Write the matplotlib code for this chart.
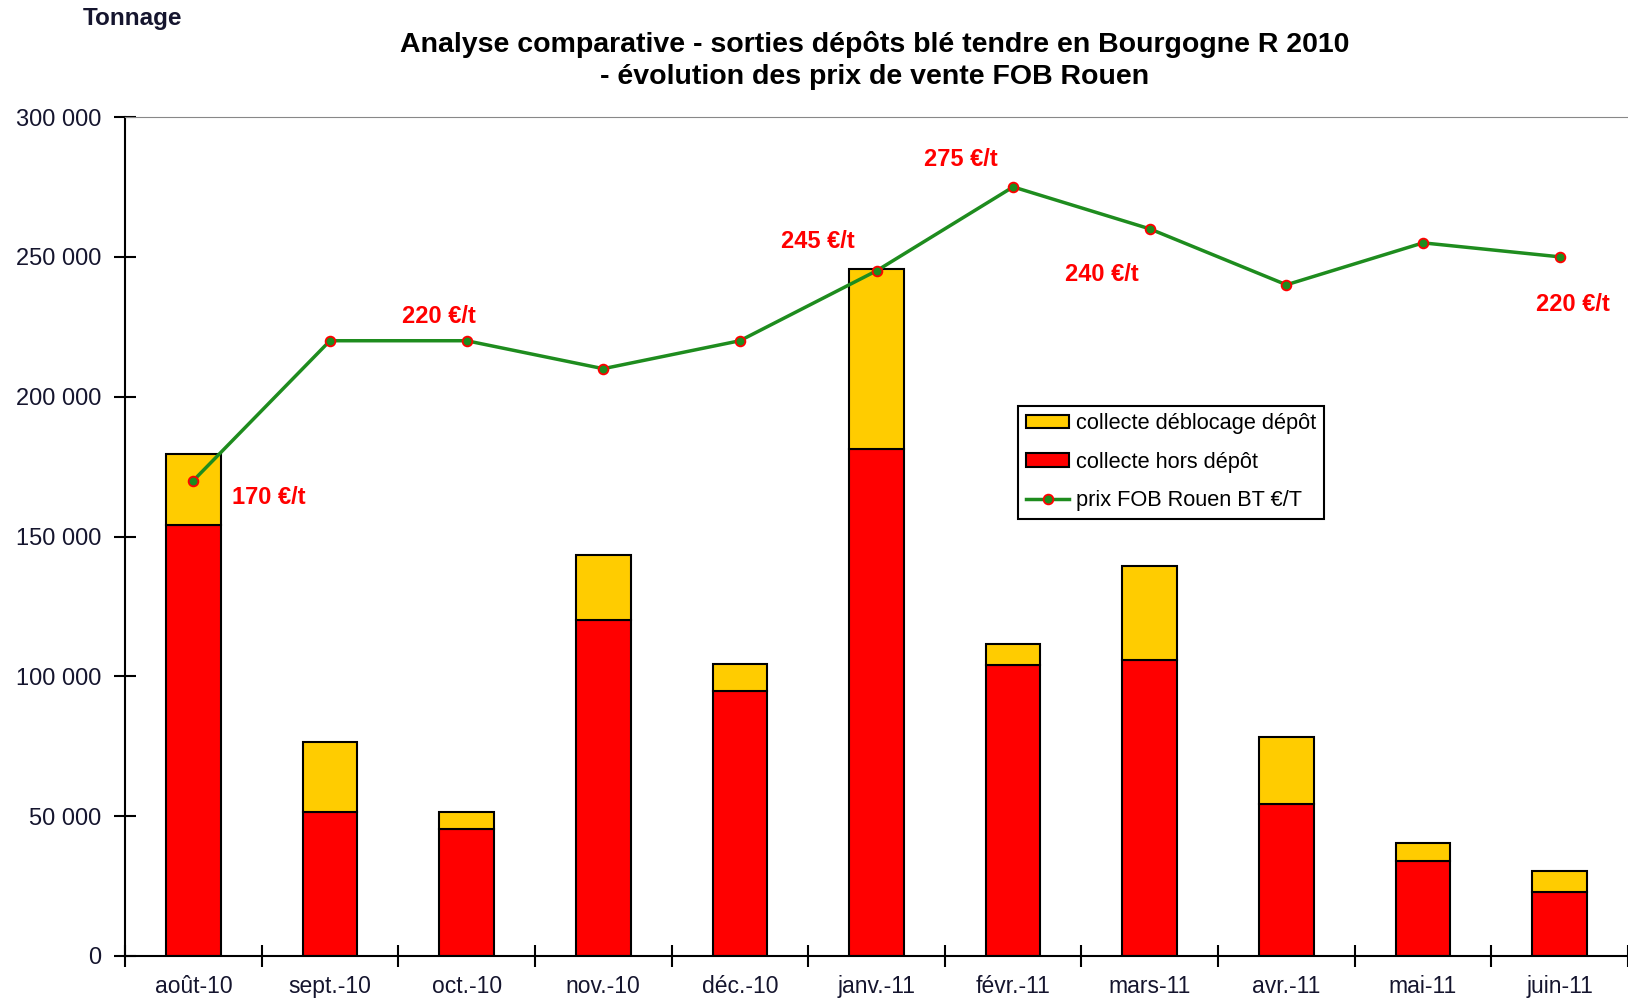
import matplotlib.pyplot as plt
import numpy as np
from matplotlib.ticker import FuncFormatter

plt.rcParams['font.family'] = ['Liberation Sans', 'DejaVu Sans']

months = ["août-10", "sept.-10", "oct.-10", "nov.-10", "déc.-10", "janv.-11",
          "févr.-11", "mars-11", "avr.-11", "mai-11", "juin-11"]
hors_depot = [154000, 51500, 45300, 120000, 94700, 181200, 104000, 105800, 54200, 33800, 23000]
total = [179400, 76500, 51600, 143300, 104300, 245500, 111400, 139600, 78400, 40500, 30400]
deblocage = [t - h for t, h in zip(total, hors_depot)]
prix = [170, 220, 220, 210, 220, 245, 275, 260, 240, 255, 250]

# price labels: (month index, text)
prix_labels = [(0, "170 €/t"), (2, "220 €/t"), (5, "245 €/t"), (6, "275 €/t"),
               (7, "240 €/t"), (10, "220 €/t")]
label_offsets = [(75, -17), (-28, 24), (-59, 29), (-52, 27), (-48, -46), (13, -48)]

RED = '#FF0000'
YELLOW = '#FFCC00'
GREEN = '#1E8C1E'
TXT = '#15152e'

fig = plt.figure(figsize=(16.28, 10), dpi=100)
ax = fig.add_axes([0.0768, 0.044, 0.9232, 0.839])

x = np.arange(len(months))
w = 0.4
ax.bar(x, hors_depot, w, color=RED, edgecolor='black', linewidth=1.5,
       label='collecte hors dépôt', zorder=2)
ax.bar(x, deblocage, w, bottom=hors_depot, color=YELLOW, edgecolor='black',
       linewidth=1.5, label='collecte déblocage dépôt', zorder=2)

# price on a hidden secondary scale 0-300
ax2 = ax.twinx()
ax2.set_ylim(0, 300)
ax2.axis('off')
ln, = ax2.plot(x, prix, color=GREEN, linewidth=2.5, marker='o', markersize=7,
               markerfacecolor=GREEN, markeredgecolor=RED, markeredgewidth=1.3,
               label='prix FOB Rouen BT €/T', zorder=3)
for (i, txt), (dx, dy) in zip(prix_labels, label_offsets):
    ax2.annotate(txt, (x[i], prix[i]), xytext=(dx, dy), textcoords='offset pixels',
                 ha='center', va='center', color=RED, fontsize=17, fontweight='bold')

ax.set_xlim(-0.5, len(months) - 0.5)
ax.set_ylim(0, 300000)
ax.set_yticks(np.arange(0, 300001, 50000))
ax.yaxis.set_major_formatter(FuncFormatter(lambda v, p: f"{int(v):,}".replace(',', ' ')))
ax.set_xticks(x)
ax.set_xticklabels(months)
ax.set_xticks(np.arange(-0.5, len(months), 1.0), minor=True)
ax.tick_params(axis='x', which='major', length=0, pad=14, labelsize=16.5, labelcolor=TXT)
ax.tick_params(axis='x', which='minor', direction='inout', length=16, width=1.5)
ax.tick_params(axis='y', direction='inout', length=16, width=1.5, pad=9,
               labelsize=17, labelcolor=TXT)

ax.spines['right'].set_visible(False)
ax.spines['top'].set_color('#888888')
ax.spines['left'].set_linewidth(1.5)
ax.spines['bottom'].set_linewidth(1.5)

handles, labels = ax.get_legend_handles_labels()
leg = ax.legend([handles[1], handles[0], ln], [labels[1], labels[0], ln.get_label()],
                loc='upper left', bbox_to_anchor=(0.587, 0.669),
                fontsize=15.7, frameon=True, fancybox=False, framealpha=1,
                edgecolor='black', handlelength=2.0, handleheight=0.6,
                handletextpad=0.3, labelspacing=0.8, borderpad=0.35)
leg.get_frame().set_linewidth(1.5)

fig.text(0.537, 0.940, "Analyse comparative - sorties dépôts blé tendre en Bourgogne R 2010\n"
         "- évolution des prix de vente FOB Rouen", ha='center', va='center',
         fontsize=20.5, fontweight='bold', color='black', linespacing=1.3)
fig.text(0.051, 0.981, "Tonnage", ha='left', va='center', fontsize=17.5,
         fontweight='bold', color=TXT)

fig.savefig('out.png', dpi=100, facecolor='white')
